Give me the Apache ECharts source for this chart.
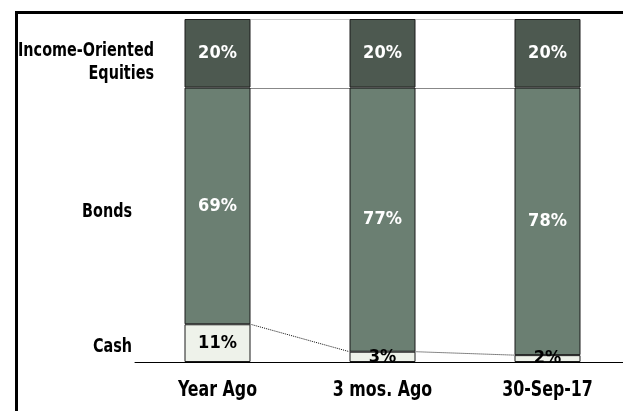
<!DOCTYPE html>
<html>
<head>
<meta charset="utf-8">
<script src="https://cdn.jsdelivr.net/npm/echarts@6/dist/echarts.min.js"></script>
<style>
  html, body { margin: 0; padding: 0; background: #fff; overflow: hidden; }
  /* the plot area runs a few pixels past the right edge of the window */
  #chart { width: 630px; height: 411px; }
</style>
</head>
<body>
<div id="chart"></div>
<script>
// Asset allocation over three dates (percent of portfolio)
const categories = ['Year Ago', '3 mos. Ago', '30-Sep-17'];
const cash = [11, 3, 2];
const bonds = [69, 77, 78];
const equities = [20, 20, 20];
const rowLabels = ['Income-Oriented\nEquities', 'Bonds', 'Cash'];

const FONT = '"DejaVu Sans Condensed", "Liberation Sans Narrow", sans-serif';
const NARROW = 0.8;      // horizontal squeeze for the condensed headline type
const BAR_RATIO = 0.4;

// cumulative boundaries for the connector lines between bars
const levels = [
  { values: cash, color: '#111' },
  { values: cash.map((c, i) => c + bonds[i]), color: '#111' },
  { values: cash.map((c, i) => c + bonds[i] + equities[i]), color: '#999' }
];

const connectorData = [];
levels.forEach((lv, li) => {
  for (let i = 0; i < categories.length - 1; i++) {
    connectorData.push([i, lv.values[i], lv.values[i + 1], li]);
  }
});

const chart = echarts.init(document.getElementById('chart'));

function seg(name, data, color, labelColor) {
  return {
    name, type: 'bar', stack: 'alloc', data,
    barWidth: (BAR_RATIO * 100) + '%',
    itemStyle: { color, borderColor: '#1a1a1a', borderWidth: 1 },
    label: {
      show: true, position: 'inside', formatter: '{c}%',
      color: labelColor, fontFamily: FONT, fontWeight: 'bold', fontSize: 18
    },
    z: 3
  };
}

function rowText(text, x, y) {
  return {
    type: 'text', x, y, scaleX: NARROW, silent: true,
    style: {
      text, font: 'bold 20px ' + FONT, fill: '#000',
      textAlign: 'right', textVerticalAlign: 'middle', lineHeight: 23
    }
  };
}

// snap a 1px line onto the pixel grid so it stays crisp
const crisp = v => Math.round(v) + 0.5;

chart.setOption({
  animation: false,
  grid: { left: 135, right: 0, top: 19, bottom: 49 },
  xAxis: {
    type: 'category', data: categories,
    axisLine: { lineStyle: { color: '#000', width: 1 } },
    axisTick: { show: false },
    axisLabel: { show: false }
  },
  yAxis: { type: 'value', min: 0, max: 100, show: false, splitLine: { show: false } },
  series: [
    seg('Cash', cash, '#eef2ea', '#000'),
    seg('Bonds', bonds, '#6b7f72', '#fff'),
    seg('Income-Oriented Equities', equities, '#4d5950', '#fff'),
    {
      // dotted connectors between the segment boundaries of neighbouring bars
      type: 'custom',
      data: connectorData,
      z: 2,
      renderItem(params, api) {
        const i = api.value(0);
        const half = api.size([1, 0])[0] * BAR_RATIO / 2;
        const p1 = api.coord([i, api.value(1)]);
        const p2 = api.coord([i + 1, api.value(2)]);
        const lv = levels[api.value(3)];
        const flat = api.value(1) === api.value(2);
        return {
          type: 'line',
          shape: {
            x1: p1[0] + half, y1: flat ? crisp(p1[1]) : p1[1],
            x2: p2[0] - half, y2: flat ? crisp(p2[1]) : p2[1]
          },
          style: { stroke: lv.color, lineWidth: 1, lineDash: [1, 1] }
        };
      }
    },
    {
      // category names under the baseline, in condensed type
      type: 'custom',
      data: categories.map((c, i) => [i, 0]),
      z: 4,
      renderItem(params, api) {
        const p = api.coord([api.value(0), 0]);
        return {
          type: 'text', x: p[0], y: p[1] + 28, scaleX: NARROW,
          style: {
            text: categories[params.dataIndex], font: 'bold 22px ' + FONT, fill: '#000',
            textAlign: 'center', textVerticalAlign: 'middle'
          }
        };
      }
    }
  ],
  graphic: [
    {
      type: 'rect', left: 14, top: 10, silent: true,
      shape: { width: 700, height: 500 },
      style: { fill: 'none', stroke: '#000', lineWidth: 3 }
    },
    rowText(rowLabels[0], 154, 62),
    rowText(rowLabels[1], 132, 212),
    rowText(rowLabels[2], 132, 347)
  ]
});
</script>
</body>
</html>
